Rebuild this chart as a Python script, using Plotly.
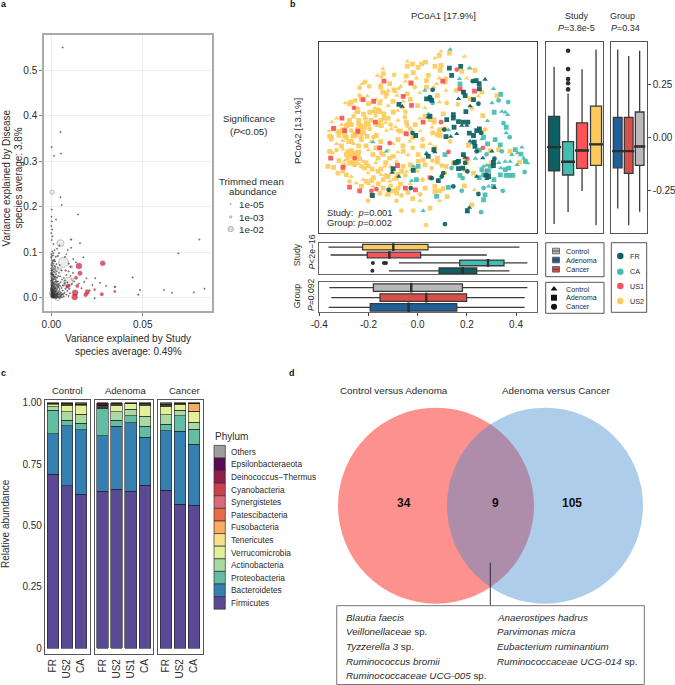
import plotly.graph_objects as go

# ---------- Panel a: variance explained (x = Study, y = Disease) ----------
tiny_species = [
(.0062,.55),(.005,.364),(.0002,.331),(.0015,.312),(.0053,.317),(.005,.221),(.0057,.204),(.0146,.183),(.0002,.194),
(.0026,.172),(.0001,.178),(.0003,.168),(.0,.158),(.0004,.15),(.0,.142),(.0006,.135),(.0002,.127),(.0012,.118),
(.0108,.128),(.0157,.12),(.0108,.11),(.081,.128),(.0695,.0975),(.0445,.0447),(.0485,.017),(.0617,.017),(.066,.011),
(.078,.012),(.0838,.02),(.0175,.089),(.0349,.024),(.024,.043),(.0266,.033),(.03,.026),(.0237,-.001),(.0045,.115),
(.0032,.108),(.0018,.105),(.0005,.102),(.0,.096),(.0009,.093),(.0024,.09),(.0042,.098),(.0075,.09),(.009,.105),
(.012,.085),(.0135,.078),(.0095,.075),(.0,.088),(.0003,.083),(.0006,.079),(.0011,.075),(.0,.072),(.0016,.07),
(.0004,.067),(.0,.064),(.0008,.062),(.0002,.06),(.0013,.058),(.0019,.056),(.0,.055),(.0006,.053),(.0026,.052),
(.0003,.05),(.001,.048),(.0,.046),(.0017,.046),(.0007,.044),(.0031,.044),(.0002,.042),(.0012,.04),(.0023,.04),
(.0,.038),(.0006,.037),(.0016,.035),(.0036,.036),(.0003,.033),(.001,.032),(.0021,.032),(.0,.03),(.0005,.028),
(.0014,.028),(.0028,.029),(.0042,.03),(.0002,.026),(.0009,.025),(.0018,.024),(.0,.023),(.0005,.021),(.0012,.021),
(.0024,.022),(.0034,.024),(.0002,.019),(.0008,.018),(.0016,.018),(.0,.016),(.0004,.015),(.0011,.015),(.002,.015),
(.003,.017),(.0045,.019),(.0002,.012),(.0007,.012),(.0014,.012),(.0024,.012),(.0036,.012),(.0,.01),(.0004,.009),
(.001,.009),(.0018,.009),(.0028,.008),(.0002,.007),(.0007,.006),(.0013,.006),(.0021,.006),(.0033,.005),(.0045,.007),
(.0,.004),(.0004,.003),(.001,.003),(.0016,.003),(.0025,.003),(.0038,.002),(.0052,.004),(.0002,.001),(.0007,.001),
(.0013,.0),(.002,.001),(.003,.0),(.0044,.0),(.0058,.001),(.0068,.003),(.0052,.012),(.0062,.016),(.0072,.011),
(.0082,.007),(.0094,.004),(.0056,.022),(.0065,.027),(.0078,.02),(.0088,.015),(.0102,.01),(.005,.034),(.0058,.04),
(.0068,.044),(.0082,.05),(.0095,.058),(.0048,.047),(.0042,.055),(.0056,.06),(.0035,.066),(.0028,.074),(.0046,.072),
(.0112,.03),(.0125,.036),(.015,.031),(.0165,.021),(.018,.035),(.0105,.048),(.0118,.055),(.021,.016),(.0225,.028),
(.0001,.06),(.0004,.056),(.0009,.051),(.0015,.042),(.0,.035),(.0007,.034),(.0019,.029),(.0026,.026),(.0001,.027),
(.0004,.024),(.0013,.024),(.002,.021),(.0,.018),(.0009,.017),(.0018,.014),(.0027,.015),(.0001,.014),(.0006,.013),
(.0012,.01),(.0022,.009),(.0032,.01),(.0,.007),(.0005,.005),(.0011,.004),(.0018,.005),(.0028,.004),(.0002,.003),
(.0009,.002),(.0016,.001),(.0025,.0),(.0035,.002),(.0048,.002),(.0038,.008),(.0048,.01),(.0058,.008),(.0031,.02),
(.004,.023),(.0048,.026),(.0035,.03),(.003,.035),(.0022,.046),(.0037,.048),(.0029,.058),(.0014,.065),(.0022,.068),
(.0006,.071),(.0002,.076),(.0013,.081),(.002,.08),(.0001,.091),(.0011,.098),(.0075,.038),(.0088,.034),(.0098,.028),
]
small_species = [
(.0,.052),(.0004,.04),(.0008,.03),(.0,.02),(.0006,.012),(.0014,.008),(.002,.019),(.0026,.036),(.0012,.05),
(.0032,.008),(.0042,.014),(.0055,.006),(.0022,.062),(.0038,.027),(.0074,.032),(.0085,.024),(.0065,.008),(.0016,.083),
(.0098,.02),(.0078,.06),(.0035,.092),(.0105,.068),
]
large_species_x = [.0005,.005,.0067,.0093,.0035,.0005,.011,.0022,.0045,.0068,.0115]
large_species_y = [.232,.12,.078,.035,.0,.01,.068,.045,.063,.028,.041]
large_species_abund = [.006,.018,.04,.032,.012,.012,.0011,.0011,.002,.0016,.0011]
sig_species_x = [.0281,.0151,.0157,.0135,.0142,.0091,.013,.0128,.0197,.0188,.0237,.0276,.0347,.0476,.0347,.0192,.0082,.0108]
sig_species_y = [.076,.07,.054,.044,.026,.0257,.011,.0015,.013,.0066,.018,.008,.014,.007,.024,.043,.096,.128]
sig_species_abund = [.008,.012,.006,.003,.003,.0044,.012,.012,.007,.0044,.0008,.003,.0011,.0004,.0002,.0002,.0001,.0001]
a_legend_labels = ["1e-05", "1e-03", "1e-02"]
a_legend_abund = [2e-5, 1.1e-3, 1e-2]

# ---------- Panel b: PCoA (PCoA1, PCoA2, group: t=Control s=Adenoma c=Cancer) ----------
pcoa_US2 = [
(-.042,.36,'t'),(-.042,.337,'s'),(-.021,.347,'s'),(.002,.331,'s'),(.016,.348,'s'),(.032,.356,'s'),
(-.141,.325,'t'),(-.14,.301,'s'),(-.096,.296,'c'),(-.164,.293,'t'),(-.148,.285,'t'),(-.046,.29,'s'),(-.018,.306,'s'),(-.005,.28,'t'),(.043,.293,'s'),
(-.213,.262,'c'),(-.226,.254,'t'),(-.198,.241,'c'),(-.236,.235,'c'),(-.152,.249,'t'),(-.15,.238,'s'),(-.114,.254,'s'),(-.069,.241,'t'),(-.077,.23,'t'),(-.05,.265,'t'),(-.025,.254,'s'),(-.012,.238,'c'),(.036,.269,'s'),(.036,.238,'s'),
(-.142,.214,'s'),(-.12,.222,'t'),(-.127,.206,'s'),(-.096,.225,'s'),(-.09,.214,'t'),(-.084,.198,'t'),(-.042,.206,'s'),(.009,.211,'t'),(-.236,.198,'c'),(-.205,.195,'t'),(-.229,.182,'s'),
(-.294,.162,'t'),(-.27,.167,'s'),(-.254,.175,'c'),(-.277,.159,'s'),(-.168,.179,'t'),(-.15,.175,'t'),(-.154,.162,'s'),(-.243,.14,'t'),(-.243,.122,'s'),(-.195,.119,'s'),(-.175,.138,'t'),(-.182,.122,'t'),(-.172,.119,'s'),(-.154,.122,'s'),(-.137,.111,'s'),(-.08,.127,'t'),(-.063,.143,'c'),
(-.349,.072,'t'),(-.277,.08,'s'),(-.284,.064,'s'),(-.29,.056,'s'),(-.24,.08,'s'),(-.232,.056,'s'),(-.213,.091,'c'),(-.137,.091,'s'),(-.08,.08,'t'),(-.052,.096,'c'),(-.046,.072,'s'),(-.042,.056,'c'),(-.304,.037,'s'),(-.318,.028,'s'),(-.327,.024,'t'),(-.27,.032,'c'),(-.243,.04,'s'),(-.236,.024,'s'),(-.229,.009,'t'),(-.215,.048,'s'),(-.195,.04,'c'),(-.168,.009,'s'),(-.148,.056,'s'),(-.127,.032,'t'),(-.107,.04,'t'),(-.08,.032,'c'),(-.256,.017,'s'),(-.263,.006,'s'),(-.358,.006,'s'),(-.297,.009,'s'),(-.168,.056,'t'),
(.095,.407,'t'),(.088,.388,'s'),(.07,.375,'t'),(.129,.399,'s'),(.19,.383,'t'),(.07,.337,'s'),(.095,.34,'s'),(.091,.317,'s'),(.216,.325,'t'),(.234,.317,'s'),(.179,.312,'s'),(.088,.28,'t'),(.115,.277,'s'),(.111,.261,'s'),(.2,.28,'t'),(.077,.254,'t'),(.066,.238,'t'),(.115,.222,'t'),(.156,.222,'c'),(.08,.198,'s'),(.088,.167,'t'),(.118,.163,'c'),(.163,.156,'c'),(.261,.214,'s'),(.247,.195,'t'),(.213,.182,'s'),(.22,.138,'c'),(.265,.103,'s'),(.104,.111,'s'),(.066,.084,'s'),(.05,.084,'s'),(.066,.072,'s'),(.058,.048,'t'),(.091,.037,'s'),(.111,.04,'s'),(.088,.028,'s'),(.061,.021,'s'),(.08,.012,'s'),(.091,.009,'s'),(.261,.024,'s'),(.274,.037,'c'),(.322,.198,'s'),
(-.352,-.011,'c'),(-.304,-.016,'t'),(-.27,-.019,'s'),(-.229,-.011,'s'),(-.08,-.011,'s'),(-.032,-.019,'t'),(-.358,-.066,'s'),(-.345,-.074,'t'),(-.304,-.058,'t'),(-.284,-.066,'c'),(-.27,-.063,'s'),(-.256,-.074,'s'),(-.243,-.082,'c'),(-.27,-.09,'s'),(-.284,-.098,'s'),(-.263,-.106,'t'),(-.25,-.11,'s'),(-.236,-.101,'s'),(-.222,-.114,'t'),(-.277,-.122,'s'),(-.256,-.129,'s'),(-.229,-.137,'c'),(-.216,-.145,'s'),(-.202,-.169,'t'),(-.365,-.137,'s'),(-.342,-.142,'s'),(-.324,-.169,'s'),(-.304,-.161,'c'),(-.29,-.177,'s'),(-.27,-.185,'t'),(-.277,-.208,'c'),(-.25,-.216,'t'),(-.222,-.2,'t'),(-.209,-.208,'s'),(-.188,-.205,'s'),(-.161,-.161,'s'),(-.148,-.177,'t'),(-.12,-.185,'s'),(-.114,-.208,'t'),(-.086,-.193,'s'),(-.066,-.161,'s'),(-.046,-.161,'t'),(-.025,-.153,'t'),(-.012,-.145,'c'),(.002,-.114,'s'),(.022,-.106,'s'),(-.134,-.137,'t'),(-.182,-.082,'s'),(-.161,-.098,'s'),(-.148,-.074,'c'),(-.114,-.098,'s'),(-.086,-.114,'t'),(-.059,-.066,'s'),(-.039,-.082,'t'),(.002,-.082,'s'),(-.059,-.137,'s'),(-.229,-.232,'s'),(-.182,-.232,'t'),(-.154,-.264,'s'),(-.127,-.272,'t'),(-.107,-.253,'s'),(-.086,-.264,'s'),(-.08,-.24,'s'),(-.093,-.248,'t'),(-.202,-.3,'c'),(-.188,-.272,'s'),(-.066,-.275,'c'),(-.086,-.3,'c'),(-.066,-.347,'c'),(-.018,-.347,'c'),(.034,-.415,'c'),
(-.24,.065,'s'),(-.235,.045,'t'),(-.245,.03,'s'),(-.25,.01,'s'),(-.23,.0,'t'),(-.22,.02,'s'),(-.2,.06,'c'),(-.19,.08,'s'),(-.17,.1,'t'),(-.16,.06,'s'),(-.15,.08,'s'),(-.13,.07,'t'),(-.12,.09,'s'),(-.11,.06,'c'),(-.09,.05,'t'),(-.07,.03,'s'),(-.05,.02,'s'),(-.03,.04,'c'),(-.01,.06,'s'),(.01,.09,'t'),(.03,.1,'s'),(-.34,.04,'s'),(-.31,.06,'t'),(-.29,.0,'s'),(-.18,.0,'c'),(-.15,-.02,'s'),(-.1,-.03,'t'),(-.06,-.04,'s'),(-.02,-.05,'c'),(.02,-.04,'s'),(.05,-.03,'t'),(.07,-.05,'s'),
(.132,-.019,'c'),(.206,-.038,'s'),(.295,-.063,'s'),(.329,-.058,'s'),(.376,-.066,'s'),(.414,-.117,'s'),(.08,-.098,'s'),(.08,-.117,'s'),(.098,-.133,'c'),(.115,-.137,'s'),(.145,-.121,'s'),(.193,-.106,'s'),(.2,-.121,'s'),(.193,-.153,'s'),(.227,-.169,'s'),(.07,-.232,'s'),(.07,-.256,'s'),(.088,-.253,'s'),(.104,-.243,'s'),(.19,-.229,'s'),(.231,-.248,'t'),(.299,-.121,'s'),(.22,-.319,'s'),(.292,-.066,'t'),(.05,-.335,'s'),(.057,-.145,'c'),(.111,-.169,'c'),
(-.275,-.075,'s'),(-.262,-.085,'c'),(-.29,-.08,'s'),(-.25,-.095,'s'),(-.24,-.07,'s'),(-.296,-.11,'t'),(-.265,-.12,'s'),(-.24,-.125,'t'),(-.21,-.12,'s'),(-.2,-.135,'c'),(-.185,-.15,'s'),(-.17,-.12,'t'),(-.1,-.16,'s'),(-.08,-.175,'s'),(-.05,-.18,'c'),(-.03,-.13,'s'),(.0,-.16,'t'),(.03,-.13,'s'),(.06,-.11,'c'),(-.14,-.24,'s'),(-.11,-.23,'c'),(-.12,-.27,'s'),(.02,-.2,'c'),(.05,-.19,'s'),(.01,-.3,'t'),
(-.33,.09,'t'),(-.36,.03,'t'),(-.35,.0,'s'),(-.33,-.03,'t'),(-.32,.01,'s'),(-.3,.03,'s'),(-.29,.05,'t'),(-.27,.06,'s'),(-.26,.1,'c'),(-.25,.12,'t'),(-.22,.11,'s'),(-.21,.07,'s'),(-.225,.035,'t'),(-.205,.005,'s'),(-.19,-.02,'t'),(-.21,-.04,'s'),(-.24,-.04,'s'),(-.26,-.03,'t'),(-.28,-.02,'s'),(-.31,-.04,'s'),(-.33,-.06,'c'),(-.35,-.1,'t'),(-.32,-.11,'s'),(-.3,-.13,'s'),(-.2,-.06,'t'),(-.17,-.05,'s'),(-.14,-.08,'s'),(-.12,-.06,'t'),(-.1,-.09,'s'),(-.08,-.07,'t'),(-.13,-.12,'s'),(-.11,-.14,'t'),(-.15,-.15,'s'),(-.13,-.18,'c'),(-.1,-.2,'t'),(-.18,-.19,'s'),(-.2,-.22,'t'),(-.16,-.22,'s'),(-.14,-.2,'s'),(-.07,-.22,'s'),(-.03,-.22,'t'),(-.04,-.26,'s'),(-.02,-.29,'s'),(.01,-.27,'c'),(.03,-.24,'s'),(.09,-.3,'t'),(.12,-.28,'s'),(-.16,.13,'s'),(-.12,.15,'t'),(-.1,.17,'s'),(-.06,.17,'t'),(-.03,.18,'s'),(-.13,.19,'t'),(-.2,.16,'s'),(-.1,.12,'s'),(-.05,.12,'c'),(.0,.15,'s'),(.03,.14,'t'),(.01,.03,'t'),(-.02,.0,'s'),(.02,-.01,'c'),
]
pcoa_CA = [
(.132,.416,'t'),(.17,.277,'t'),(.172,.253,'s'),(.21,.328,'t'),(.308,.23,'t'),(.338,.203,'s'),(.329,.175,'c'),(.302,.163,'t'),(.368,.167,'c'),(.311,.119,'s'),(.342,.122,'t'),(.356,.119,'t'),(.366,.107,'t'),(.349,.067,'c'),(.36,.048,'s'),(.284,.078,'t'),(.36,.021,'t'),(.374,.001,'c'),(.268,.001,'s'),(.125,.035,'t'),(.061,.163,'c'),
(.261,-.008,'t'),(.284,-.031,'s'),(.315,-.011,'s'),(.336,-.035,'s'),(.342,-.066,'c'),(.22,-.027,'t'),(.111,-.082,'s'),(.138,-.145,'c'),(.172,-.18,'s'),(.183,-.193,'c'),(.268,-.137,'t'),(.281,-.132,'t'),(.295,-.137,'s'),(.261,-.153,'s'),(.268,-.177,'s'),(.288,-.161,'s'),(.336,-.177,'s'),(.36,-.18,'s'),(.376,-.18,'s'),(.387,-.18,'s'),(.338,-.145,'t'),(.356,-.114,'t'),(.376,-.114,'t'),(.356,-.153,'s'),(.37,-.145,'s'),(.383,-.082,'t'),(.397,-.058,'s'),(.406,-.074,'t'),(.424,-.047,'t'),(.42,-.079,'s'),(.438,-.114,'s'),(.447,-.122,'t'),(.431,-.098,'t'),(.404,-.13,'t'),(.435,-.164,'c'),(.288,-.232,'t'),(.308,-.232,'s'),(.346,-.253,'c'),(.179,-.253,'c'),(.125,-.237,'s'),(.077,-.279,'s'),(.268,-.24,'c'),(.274,-.272,'s'),(.268,-.295,'s'),(.202,-.354,'t'),(.258,-.354,'c'),
(-.182,-.022,'t'),(-.127,-.066,'t'),(-.018,-.137,'t'),(.002,-.137,'s'),(-.025,-.205,'t'),(-.005,-.2,'s'),(.022,-.347,'t'),(.036,-.074,'t'),(.029,.222,'t'),(.043,.11,'t'),
(.25,-.06,'s'),(.235,-.1,'t'),(.28,-.08,'c'),(.31,-.2,'s'),(.33,-.12,'t'),(.25,-.19,'s'),
]
pcoa_US1 = [
(-.137,.266,'s'),(-.028,.258,'s'),(-.059,.194,'s'),(-.222,.179,'s'),(-.179,.171,'s'),(-.259,.14,'c'),(-.308,.091,'s'),(-.342,.043,'s'),(-.172,.072,'s'),(.022,.072,'s'),(-.025,.151,'s'),(-.243,.029,'s'),(-.297,.032,'s'),(-.046,.017,'s'),
(.102,.266,'s'),(.159,.321,'c'),(.172,.23,'s'),(.231,.219,'s'),(.186,.214,'c'),(.095,.072,'c'),
(-.304,-.142,'s'),(-.354,-.098,'s'),(-.236,-.253,'s'),(-.277,-.235,'s'),(-.188,-.253,'c'),(-.168,-.245,'c'),(-.05,-.24,'s'),(-.009,-.248,'s'),(-.082,-.133,'s'),(-.154,-.05,'s'),(-.114,-.027,'c'),(-.256,-.098,'c'),
(.265,-.05,'c'),(.281,-.158,'c'),(.125,-.069,'c'),(.202,-.101,'c'),(.05,-.19,'c'),
]
pcoa_FR = [
(.129,.328,'s'),(.175,.336,'s'),(.138,.293,'s'),(.224,.266,'c'),(.238,.269,'s'),(.274,.274,'t'),(.25,.254,'s'),(.251,.23,'s'),(.186,.214,'s'),(.193,.198,'s'),(.166,.182,'t'),(.227,.179,'s'),(.213,.148,'t'),(.247,.159,'c'),(.196,.122,'s'),(.061,.225,'c'),(.05,.19,'c'),(.057,.175,'s'),(.145,.107,'s'),(.145,.091,'s'),(.118,.084,'s'),(.166,.075,'s'),(.186,.072,'s'),(.204,.072,'s'),(.179,.056,'t'),(.2,.056,'t'),(.148,.048,'s'),(.108,.037,'c'),(.21,.02,'s'),(.227,.009,'s'),(.251,.04,'s'),(.258,.021,'c'),(.24,.032,'s'),(.159,.017,'t'),(.115,.004,'s'),(.134,.004,'t'),
(-.076,.156,'s'),(-.063,.146,'t'),(-.021,.021,'c'),(-.008,.009,'s'),(.043,.096,'t'),(.036,.182,'s'),(.05,.182,'s'),(.05,.1,'s'),
(-.1,-.148,'s'),(-.104,-.166,'t'),(-.077,-.185,'t'),(-.018,-.156,'s'),(-.118,-.248,'c'),(-.184,-.275,'s'),(-.028,-.24,'c'),(.036,-.079,'t'),(.043,-.09,'s'),
(.066,-.058,'s'),(.07,-.069,'t'),(.152,-.121,'s'),(.166,-.114,'s'),(.16,-.118,'s'),(.166,-.148,'s'),(.186,-.082,'s'),(.193,-.095,'t'),(.193,-.121,'c'),(.23,-.022,'s'),(.213,-.019,'t'),(.24,-.066,'c'),(.265,-.098,'t'),(.312,-.101,'c'),(.308,-.117,'s'),(.278,-.18,'s'),(.288,-.185,'s'),(.281,-.196,'t'),(.312,-.237,'t'),(.24,-.185,'t'),(.202,-.161,'c'),(.104,-.169,'c'),(.098,-.185,'c'),(.084,-.205,'s'),(.145,-.232,'c'),(.247,-.268,'c'),(.21,-.332,'t'),(.202,-.347,'s'),(.111,-.41,'c'),(.233,-.043,'s'),(.302,-.066,'t'),(.308,-.133,'s'),(.183,-.145,'s'),(.057,-.193,'c'),
]
# marginal boxplots: (q1, median, q3, lower whisker, upper whisker)
study_names = ["FR", "CA", "US1", "US2"]
study_y_stats = [(-.158,-.046,.099,-.41,.334),(-.178,-.115,-.02,-.353,.208),(-.147,-.062,.069,-.254,.322),(-.132,-.033,.148,-.416,.416)]
study_y_outliers = [.41,.323,.276,.256,.227]
group_names = ["Adenoma", "Cancer", "Control"]
group_y_stats = [(-.144,-.065,.095,-.336,.416),(-.17,-.065,.095,-.416,.385),(-.132,-.043,.12,-.352,.41)]
study_x_stats = [(.087,.183,.24,-.117,.373),(.171,.286,.351,-.076,.446),(-.205,-.115,.012,-.354,.281),(-.224,-.099,.042,-.363,.414)]
study_x_outliers_CA = [-.182,-.137,-.129]
study_x_outliers_FR = [-.184]
group_x_stats = [(-.193,-.037,.159,-.362,.435),(-.153,.035,.199,-.351,.435),(-.18,-.026,.182,-.359,.446)]

# ---------- Panel c: phylum composition ----------
phyla = ["Firmicutes","Bacteroidetes","Proteobacteria","Actinobacteria","Verrucomicrobia","Tenericutes","Fusobacteria",
         "Patescibacteria","Synergistetes","Cyanobacteria","Deinococcus\u2212Thermus","Epsilonbacteraeota","Others"]
control_studies = ["FR","US2","CA"]
adenoma_studies = ["FR","US2","US1","CA"]
cancer_studies = ["FR","US2","CA"]
control_abund = [
 [.708,.166,.096,.014,.008,.003,.002,0,0,0,0,.001,.002],
 [.661,.245,.023,.034,.027,.004,.002,0,0,0,0,.001,.003],
 [.627,.263,.026,.038,.034,.004,.002,0,0,0,0,.002,.004]]
adenoma_abund = [
 [.64,.226,.111,.004,.005,.002,.002,0,0,0,0,.007,.003],
 [.647,.258,.024,.034,.027,.004,.002,0,0,0,0,.001,.003],
 [.639,.28,.028,.027,.021,.002,.001,0,0,0,0,0,.002],
 [.663,.196,.045,.04,.046,.004,.002,0,0,0,0,.001,.003]]
cancer_abund = [
 [.643,.243,.026,.039,.035,.004,.003,0,0,0,0,.003,.004],
 [.586,.297,.064,.023,.023,.002,.002,0,0,0,0,.001,.002],
 [.582,.248,.061,.029,.043,.003,.032,0,0,0,0,0,.002]]
legend_phyla = ["Others","Epsilonbacteraeota","Deinococcus\u2212Thermus","Cyanobacteria","Synergistetes","Patescibacteria",
                "Fusobacteria","Tenericutes","Verrucomicrobia","Actinobacteria","Proteobacteria","Bacteroidetes","Firmicutes"]

# ---------- Panel d ----------
venn_counts = ["34", "9", "105"]
venn_left = ["<i>Blautia faecis</i>","<i>Veillonellaceae</i> sp.","<i>Tyzzerella 3</i> sp.","<i>Ruminococcus bromii</i>","<i>Ruminococcaceae UCG-005</i> sp."]
venn_right = ["<i>Anaerostipes hadrus</i>","<i>Parvimonas micra</i>","<i>Eubacterium ruminantium</i>","<i>Ruminococcaceae UCG-014</i> sp."]

# ---------- styles ----------
W, H = 675, 685
FONT = "Liberation Sans"
TXT = "#2b2b2b"
STUDY_COL = {"FR":"#0C5F63","CA":"#43BDB0","US1":"#FC5357","US2":"#FDCB5C"}
GROUP_COL = {"Control":"#B9B9B9","Adenoma":"#1F6098","Cancer":"#D9504A"}
SYM = {"t":"triangle-up","s":"square","c":"circle"}
PHY_COL = {"Firmicutes":"#5A4A96","Bacteroidetes":"#3580B0","Proteobacteria":"#62BDA2","Actinobacteria":"#A8DAA2",
 "Verrucomicrobia":"#E3F099","Tenericutes":"#F8DF8A","Fusobacteria":"#F8AB62","Patescibacteria":"#E96C48",
 "Synergistetes":"#D96A7E","Cyanobacteria":"#CF404F","Deinococcus\u2212Thermus":"#8F1F4A","Epsilonbacteraeota":"#5A0A50","Others":"#9E9E9E"}
BOX_LINE = "#3a3a3a"

fig = go.Figure()
layout = {}

def axes(n, l, t, r, b, xr, yr, **kw):
    """place axis pair n on the pixel box l,t,r,b"""
    xk = dict(domain=[l/W, r/W], range=xr, anchor=f"y{n}", showgrid=False, zeroline=False, showline=True, mirror=True,
              automargin=False, linecolor=kw.get("line", "#444"), linewidth=kw.get("lw", 1.2), ticks="", showticklabels=False,
              tickfont=dict(size=kw.get("fs", 10), color=TXT), ticklen=3, tickwidth=.8, tickcolor="#444")
    yk = dict(xk); yk.update(domain=[1-b/H, 1-t/H], range=yr, anchor=f"x{n}")
    xk.update(kw.get("x", {})); yk.update(kw.get("y", {}))
    layout[f"xaxis{n}"] = xk; layout[f"yaxis{n}"] = yk
    return f"x{n}", f"y{n}"

def box(xa, ya, stats, pos, col, width, horizontal=False):
    q1, m, q3, lo, up = stats
    kw = dict(q1=[q1], median=[m], q3=[q3], lowerfence=[lo], upperfence=[up], width=width, fillcolor=col,
              line=dict(color=BOX_LINE, width=1.3), whiskerwidth=0, xaxis=xa, yaxis=ya, showlegend=False, boxpoints=False)
    if horizontal:
        fig.add_trace(go.Box(y=[pos], orientation="h", **kw))
    else:
        fig.add_trace(go.Box(x=[pos], **kw))

# panel a
xa, ya = axes(1, 44, 35, 212, 311, [-.004, .0879], [-.029, .5776], line="#aaaaaa", lw=1.5,
    x=dict(showgrid=True, gridcolor="#eeeeee", gridwidth=1, tickvals=[0,.05], ticktext=["0.00","0.05"], showticklabels=True, ticks="outside", tickcolor="#888"),
    y=dict(showgrid=True, gridcolor="#eeeeee", gridwidth=1, tickvals=[0,.1,.2,.3,.4,.5], ticktext=["0.0","0.1","0.2","0.3","0.4","0.5"], showticklabels=True, ticks="outside", tickcolor="#888"))
def diam(a): return 1 + 45*a**.5
GL = dict(width=.5, color="rgba(30,30,30,.9)")
fig.add_trace(go.Scatter(x=large_species_x, y=large_species_y, mode="markers", xaxis=xa, yaxis=ya, showlegend=False,
    marker=dict(size=[diam(a) for a in large_species_abund], color="rgba(190,190,190,.4)", line=dict(width=.6, color="rgba(90,90,90,.75)"))))
for pts, ab in ((small_species, 2e-4), (tiny_species, 4e-5)):
    fig.add_trace(go.Scatter(x=[p[0] for p in pts], y=[p[1] for p in pts], mode="markers", xaxis=xa, yaxis=ya, showlegend=False,
        marker=dict(size=diam(ab), color="rgba(110,110,110,.5)", line=GL)))
fig.add_trace(go.Scatter(x=sig_species_x, y=sig_species_y, mode="markers", xaxis=xa, yaxis=ya, showlegend=False,
    marker=dict(size=[diam(a) for a in sig_species_abund], color="rgb(198,28,54)", line=dict(width=.4, color="rgb(198,28,54)"))))

# panel b scatter
xa, ya = axes(2, 319.3, 41.7, 536.7, 232.7, [-.4, .484], [-.451, .4527])
for name, pts in (("US2", pcoa_US2), ("US1", pcoa_US1), ("CA", pcoa_CA), ("FR", pcoa_FR)):
    fig.add_trace(go.Scatter(x=[p[0] for p in pts], y=[p[1] for p in pts], mode="markers", xaxis=xa, yaxis=ya, showlegend=False,
        marker=dict(size=4.8, color=STUDY_COL[name], symbol=[SYM[p[2]] for p in pts], opacity=.92, line=dict(width=0))))

def medians(xa, ya, xs, ys, sym, size):
    fig.add_trace(go.Scatter(x=xs, y=ys, mode="markers", xaxis=xa, yaxis=ya, showlegend=False,
        marker=dict(symbol=sym, size=size, color="#2e2e2e", line=dict(width=2.4, color="#2e2e2e"))))

# study boxes (vertical)
xa, ya = axes(3, 545.7, 41.7, 603.3, 232.7, [.4, 4.52], [-.451, .4527], line="#555")
for i, (n, s) in enumerate(zip(study_names, study_y_stats), 1):
    box(xa, ya, s, i, STUDY_COL[n], .79)
medians(xa, ya, [1,2,3,4], [s[1] for s in study_y_stats], "line-ew", 10)
fig.add_trace(go.Scatter(x=[2]*len(study_y_outliers), y=study_y_outliers, mode="markers", xaxis=xa, yaxis=ya, showlegend=False,
    marker=dict(size=4.6, color="#2e2e2e")))
# group boxes (vertical)
xa, ya = axes(4, 610.7, 41.7, 646.7, 232.7, [.36, 3.64], [-.451, .4527], line="#555",
    y=dict(side="right", tickvals=[-.25,0,.25], ticktext=["-0.25","0.00","0.25"], showticklabels=True, ticks="outside"))
for i, (n, s) in enumerate(zip(group_names, group_y_stats), 1):
    box(xa, ya, s, i, GROUP_COL[n], .79)
medians(xa, ya, [1,2,3], [s[1] for s in group_y_stats], "line-ew", 8)
# study boxes (horizontal)
xa, ya = axes(5, 319.3, 242.7, 536.7, 274.3, [-.4, .484], [.56, 4.56], line="#666")
for i, (n, s) in enumerate(zip(study_names, study_x_stats), 1):
    box(xa, ya, s, i, STUDY_COL[n], .72, True)
medians(xa, ya, [s[1] for s in study_x_stats], [1,2,3,4], "line-ns", 5.5)
fig.add_trace(go.Scatter(x=study_x_outliers_CA+study_x_outliers_FR, y=[2]*len(study_x_outliers_CA)+[1]*len(study_x_outliers_FR),
    mode="markers", xaxis=xa, yaxis=ya, showlegend=False, marker=dict(size=4, color="#2e2e2e")))
# group boxes (horizontal)
xa, ya = axes(6, 319.3, 282.3, 536.7, 312.3, [-.4, .484], [.5, 3.55], line="#666",
    x=dict(tickvals=[-.4,-.2,0,.2,.4], ticktext=["-0.4","-0.2","0.0","0.2","0.4"], showticklabels=True, ticks="outside"))
for i, (n, s) in enumerate(zip(group_names, group_x_stats), 1):
    box(xa, ya, s, i, GROUP_COL[n], .76, True)
medians(xa, ya, [s[1] for s in group_x_stats], [1,2,3], "line-ns", 7)

# panel c
AX_C = dict(tickangle=-90, showticklabels=True, ticks="", type="category")
facet_defs = ((7, 45, 90, [-.565, 2.635], control_studies, control_abund, True),
              (8, 94.7, 153.3, [-.54, 3.59], adenoma_studies, adenoma_abund, False),
              (9, 157.7, 203.3, [-.59, 2.66], cancer_studies, cancer_abund, False))
for n, l, r, xr, studies, abund, first in facet_defs:
    yk = dict(tickvals=[0,.25,.5,.75,1], ticktext=["0","0.25","0.50","0.75","1.00"], showticklabels=True, ticks="", ticklen=0) if first else {}
    xa, ya = axes(n, l, 400, r, 654, xr, [-.023, 1.011], line="#555", x=AX_C, y=yk)
    for j, ph in enumerate(phyla):
        fig.add_trace(go.Bar(x=studies, y=[row[j] for row in abund], xaxis=xa, yaxis=ya, width=.82, showlegend=False,
            marker=dict(color=PHY_COL[ph], line=dict(color="#222", width=.6))))

# overlay in page pixels for legends, keys and text
xo, yo = axes(10, 0, 0, W, H, [0, W], [H, 0], lw=0,
    x=dict(visible=False, showline=False, mirror=False), y=dict(visible=False, showline=False, mirror=False))
annos, shapes = [], []
def text(x, y, s, size=10, anchor="center", angle=0, color=TXT):
    annos.append(dict(x=x, y=y, xref=xo, yref=yo, text=s, showarrow=False, xanchor=anchor, yanchor="middle", borderpad=0,
                      textangle=angle, font=dict(size=size, color=color, family=FONT)))
def rect(x0, y0, x1, y1, line="#555", lw=1, fill="rgba(0,0,0,0)"):
    shapes.append(dict(type="rect", x0=x0, y0=y0, x1=x1, y1=y1, xref=xo, yref=yo, line=dict(color=line, width=lw), fillcolor=fill))

for s, x, y in (("a",0,4),("b",289,4),("c",0,373),("d",288,373)):
    text(x, y, f"<b>{s}</b>", 9, "left", color="#111")
# a texts
text(5.5, 178, "Variance explained by Disease", angle=-90)
text(17.5, 178, "species average: 3.8%", angle=-90)
text(128, 338, "Variance explained by Study")
text(128, 351, "species average: 0.49%")
text(248.7, 118.3, "Significance", 9.7)
text(248.5, 131, "(<i>P</i>&lt;0.05)", 9.7)
text(251, 181, "Trimmed mean", 9.7)
text(253, 191, "abundance", 9.7)
key_ys = [204, 217, 229]
for lab, ab, yy in zip(a_legend_labels, a_legend_abund, key_ys):
    text(238, yy, lab, 9.7, "left")
fig.add_trace(go.Scatter(x=[230.7]*3, y=key_ys, mode="markers", xaxis=xo, yaxis=yo, showlegend=False,
    marker=dict(size=[diam(a) for a in a_legend_abund], color="rgba(170,170,170,.55)", line=dict(width=.6, color="rgba(70,70,70,.8)"))))
# b texts
text(443.3, 15.7, "PCoA1 [17.9%]", 9.5)
text(577.3, 15.7, "Study", 9); text(576.7, 27.7, "<i>P</i>=3.8e-5", 9)
text(622.7, 15.7, "Group", 9); text(625.7, 27.7, "<i>P</i>=0.34", 9)
text(297.3, 130.7, "PCoA2 [13.1%]", 9.7, angle=-90)
text(326, 212.5, "Study:  <i>p</i>=0.001", 9.3, "left")
text(326, 223, "Group: <i>p</i>=0.002", 9.3, "left")
text(297.3, 255, "Study", 8.8, angle=-90)
text(311.7, 251.7, "<i>P</i>&lt;2e\u221216", 8.6, angle=-90)
text(297.3, 296, "Group", 8.8, angle=-90)
text(311.7, 295.3, "<i>P</i>=0.092", 8.6, angle=-90)
rect(545.7, 242.7, 604, 276.7); rect(545.7, 282.3, 604, 313.3); rect(611.3, 242.7, 646.7, 312.3)
for g, yy in zip(["Control","Adenoma","Cancer"], [251, 260, 269.3]):
    rect(552.5, yy-2.8, 559.5, yy+2.8, line="#555", lw=.8, fill=GROUP_COL[g])
    shapes.append(dict(type="line", x0=552.5, x1=559.5, y0=yy, y1=yy, xref=xo, yref=yo, line=dict(color="#444", width=.9)))
    text(564.7, yy, g, 7.2, "left")
sym_ys = [289, 297.7, 306.7]
fig.add_trace(go.Scatter(x=[554]*3, y=sym_ys, mode="markers", xaxis=xo, yaxis=yo, showlegend=False,
    marker=dict(size=6, color="#111", symbol=["triangle-up","square","circle"])))
for g, yy in zip(["Control","Adenoma","Cancer"], sym_ys):
    text(564.7, yy, g, 7.2, "left")
stud_ys = [256, 271.7, 286, 301]
fig.add_trace(go.Scatter(x=[620.3]*4, y=stud_ys, mode="markers", xaxis=xo, yaxis=yo, showlegend=False,
    marker=dict(size=6.5, color=[STUDY_COL[s] for s in study_names])))
for s, yy in zip(study_names, stud_ys):
    text(629.3, yy, s, 7.2, "left")
# c texts
text(67, 390, "Control", 9.5); text(125.5, 390, "Adenoma", 9.5); text(184, 390, "Cancer", 9.5)
text(5, 524, "Relative abundance", angle=-90)
text(213.5, 436, "Phylum", 10, "left")
for i, ph in enumerate(legend_phyla):
    yy = 451.7 + i*12.6
    rect(214, yy-6.3, 225.3, yy+6.3, line="#333", lw=.7, fill=PHY_COL[ph])
    text(230, yy, ph, 8.3, "left")
# d
shapes.append(dict(type="circle", x0=338, x1=534, y0=407.7, y1=603.7, xref=xo, yref=yo, fillcolor="#FD918D", line=dict(width=0)))
shapes.append(dict(type="circle", x0=447, x1=643, y0=407.7, y1=603.7, xref=xo, yref=yo, fillcolor="rgba(62,136,207,.42)", line=dict(width=0)))
text(394, 390, "Control versus Adenoma", 9.8)
text(556.3, 390, "Adenoma versus Cancer", 9.8)
for s, x in zip(venn_counts, (404, 495.3, 571.7)):
    text(x, 503.3, f"<b>{s}</b>", 12, color="#111")
shapes.append(dict(type="line", x0=490.3, x1=490.3, y0=562.7, y1=605.7, xref=xo, yref=yo, line=dict(color="#222", width=.9)))
rect(336.7, 605.7, 644.3, 684.5, line="#777", lw=1)
for i, s in enumerate(venn_left):
    text(344.7, 617.3 + i*14.67, s, 9.8, "left")
for i, s in enumerate(venn_right):
    text(496, 617.3 + i*14.67, s, 9.8, "left")

fig.update_layout(template="none", width=W, height=H, margin=dict(l=0, r=0, t=0, b=0, pad=0), paper_bgcolor="white", plot_bgcolor="rgba(0,0,0,0)",
                  barmode="stack", autosize=False, showlegend=False, font=dict(family=FONT, size=10, color=TXT),
                  annotations=annos, shapes=shapes, **layout)
fig.write_html("out.html", config={"displayModeBar": False},
               post_script="document.body.style.margin='0';document.body.style.overflow='hidden';")
